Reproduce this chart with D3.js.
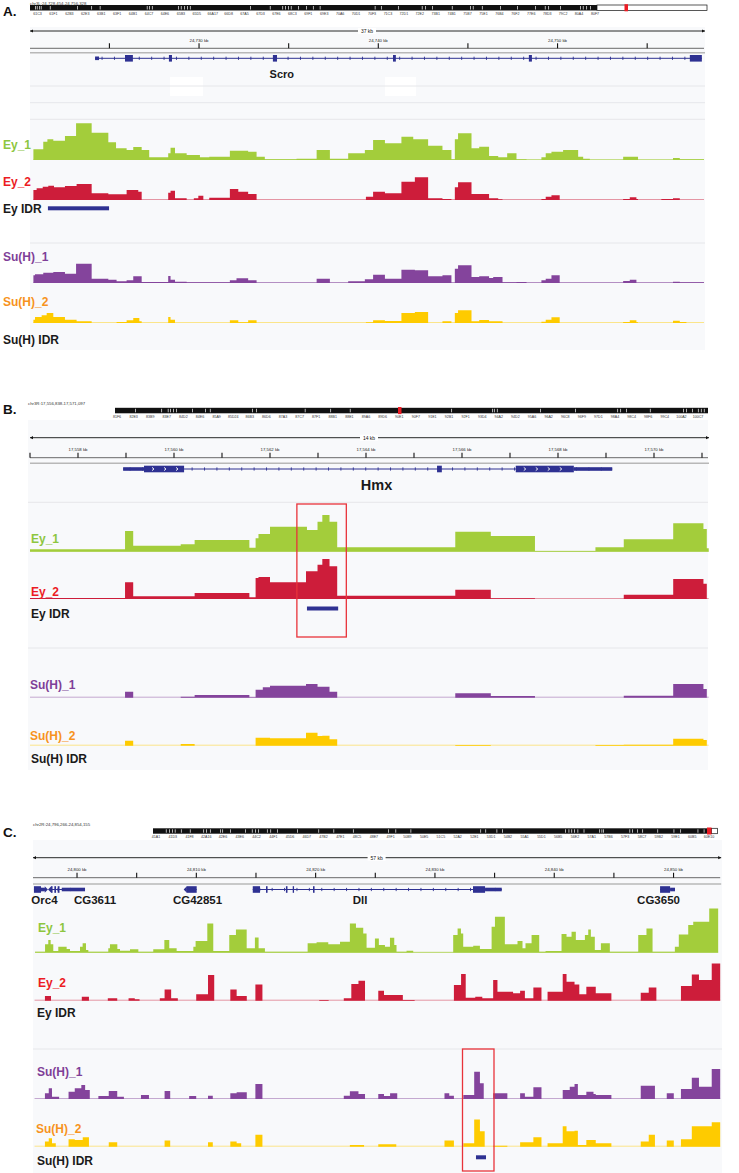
<!DOCTYPE html>
<html>
<head>
<meta charset="utf-8">
<script src="https://cdn.jsdelivr.net/npm/d3@7"></script>
<style>
  body { margin: 0; background: #fff; }
  svg { display: block; }
  text { font-family: "Liberation Sans", Arial, Helvetica, sans-serif; }
</style>
</head>
<body>
<svg id="chart" width="739" height="1173"></svg>
<script>
// ---- signal data: [offset from window start (kb), coverage value] ----
// panel A : Scro
const aEy1 = [[0.19,32],[0.74,55],[0.97,62],[1.30,58],[1.95,72],[2.57,110],[3.44,82],[4.37,53],[4.80,35],[5.39,30],[5.76,39],[6.23,30],[6.65,8],[7.71,20],[7.84,37],[8.09,20],[8.74,15],[9.48,8],[10.0,10],[11.15,28],[12.17,25],[12.64,10],[13.10,2],[14.87,4],[15.99,30],[16.73,4],[17.75,20],[18.68,30],[19.14,60],[19.80,50],[20.72,70],[21.38,62],[22.21,43],[23.01,30],[23.51,2],[23.70,62],[23.88,80],[24.63,35],[25.06,40],[25.61,12],[26.12,8],[26.62,20],[27.14,2],[27.70,1],[28.53,8],[28.77,20],[29.09,25],[29.74,30],[30.58,10],[30.86,4],[31.23,1],[33.09,10],[33.92,1],[35.87,6],[36.25,2],[37.6,2]];
const aEy2 = [[0.19,30],[0.37,35],[0.71,40],[1.02,43],[1.34,38],[1.95,42],[2.60,48],[3.44,20],[4.37,17],[5.39,30],[6.04,25],[6.23,0],[7.71,22],[7.84,28],[8.09,5],[8.74,0],[9.14,5],[9.39,13],[9.67,0],[10.0,7],[11.15,33],[11.62,25],[12.17,18],[12.64,0],[18.74,10],[19.14,25],[19.80,20],[20.72,55],[21.47,68],[22.21,5],[23.01,3],[23.51,0],[23.70,38],[23.88,53],[24.63,18],[25.61,5],[26.12,2],[26.36,0],[28.53,3],[28.77,10],[29.09,14],[29.55,0],[33.09,3],[33.46,8],[33.83,3],[33.92,0],[35.22,3],[35.87,5],[36.25,0],[37.6,0]];
const aSu1 = [[0.19,23],[0.28,26],[0.74,31],[1.30,33],[1.95,28],[2.57,58],[3.44,13],[4.37,10],[4.83,5],[5.39,8],[5.76,20],[6.23,3],[7.71,21],[7.84,10],[8.09,4],[8.74,2],[11.15,8],[11.52,14],[12.17,8],[12.64,1],[15.99,13],[16.73,1],[17.75,5],[18.68,11],[19.14,25],[19.80,13],[20.72,40],[21.47,38],[22.21,20],[23.01,23],[23.51,1],[23.70,43],[23.88,53],[24.63,18],[25.06,20],[25.61,15],[25.84,18],[26.36,2],[27.14,3],[27.70,1],[28.53,8],[28.77,13],[29.09,23],[29.55,1],[33.09,6],[33.46,10],[33.83,1],[35.87,4],[36.25,2],[37.6,2]];
const aSu2 = [[0.19,10],[0.28,18],[0.65,23],[0.93,30],[1.30,18],[1.95,10],[2.60,5],[3.44,0],[4.83,3],[5.39,8],[5.76,15],[6.10,5],[6.23,0],[7.71,18],[7.84,10],[8.09,0],[11.15,8],[11.62,2],[12.17,8],[12.64,0],[18.74,2],[19.14,8],[19.80,6],[20.72,30],[21.47,33],[22.21,0],[23.01,5],[23.51,0],[23.70,30],[23.88,38],[24.63,5],[25.06,9],[25.61,5],[26.36,0],[28.53,4],[28.77,10],[29.09,17],[29.55,0],[33.09,3],[33.46,8],[33.83,2],[33.92,0],[35.87,7],[36.25,3],[36.62,0],[37.6,0]];
const aEyIdr = [[1.0, 4.41]];
const aSuIdr = [];

// panel B : Hmx
const bEy1 = [[0,7],[1.98,62],[2.15,18],[3.14,22],[3.43,35],[4.57,12],[4.70,40],[4.76,53],[5.00,75],[5.77,65],[5.99,90],[6.09,110],[6.24,90],[6.40,13],[8.86,60],[9.60,47],[10.52,2],[11.78,13],[12.37,37],[13.40,85],[14.03,68],[14.10,10],[14.14,10]];
const bEy2 = [[0,3],[1.98,50],[2.15,8],[3.43,18],[4.57,5],[4.70,63],[4.76,66],[5.00,50],[5.75,83],[5.99,103],[6.09,120],[6.24,98],[6.40,10],[8.86,28],[9.60,2],[10.52,0],[12.37,13],[13.40,60],[14.03,46],[14.10,0],[14.14,0]];
const bSu1 = [[0,0],[1.98,18],[2.15,0],[3.14,3],[3.43,8],[4.57,1],[4.70,24],[4.85,31],[5.00,36],[5.75,41],[5.99,33],[6.24,18],[6.40,0],[8.86,13],[9.60,5],[10.52,0],[12.37,6],[13.40,41],[14.03,26],[14.10,0],[14.14,0]];
const bSu2 = [[0,0],[1.98,15],[2.15,0],[3.14,5],[3.43,0],[4.70,24],[5.00,22],[5.75,39],[5.99,29],[6.09,30],[6.24,19],[6.40,0],[8.86,2],[9.60,0],[11.78,2],[12.37,3],[13.40,21],[14.03,17],[14.10,0],[14.14,0]];
const bEyIdr = [[5.77, 6.42]];
const bSuIdr = [];
const bHighlight = [5.56, 6.59];

// panel C : Dll
const cEy1 = [[0.17,3],[1.01,25],[1.28,38],[1.48,25],[1.70,5],[2.12,18],[2.82,11],[3.10,5],[3.94,18],[4.16,28],[4.44,8],[4.64,3],[6.31,13],[6.45,25],[7.07,11],[7.29,6],[8.13,10],[8.83,3],[10.08,10],[11.01,38],[11.42,13],[12.04,5],[13.44,18],[13.63,35],[14.61,88],[15.11,5],[16.45,53],[17.01,70],[17.91,13],[18.60,46],[18.91,13],[19.44,3],[23.02,28],[23.77,31],[24.75,25],[25.73,33],[26.56,88],[27.07,75],[27.68,58],[27.96,15],[28.66,43],[28.99,23],[29.50,18],[29.92,45],[30.28,23],[30.47,3],[31.31,6],[31.87,1],[35.22,53],[35.59,73],[35.87,58],[36.06,18],[36.90,21],[37.46,11],[38.44,78],[38.72,108],[39.55,25],[40.61,35],[41.03,13],[41.28,28],[41.79,53],[42.43,3],[42.96,5],[44.30,56],[44.72,48],[45.14,63],[45.50,38],[46.26,53],[46.54,70],[46.76,48],[47.09,8],[47.60,28],[48.35,3],[50.73,53],[51.42,73],[51.93,3],[53.80,18],[54.13,55],[54.92,83],[55.34,93],[56.68,133],[57.43,133]];
const cEy2 = [[0.13,0],[1.00,14],[1.51,0],[4.09,12],[4.69,0],[6.27,7],[7.06,0],[8.01,7],[8.53,4],[8.93,0],[10.63,7],[11.03,34],[11.58,7],[12.14,0],[13.68,19],[14.67,77],[15.19,0],[16.54,34],[17.07,14],[17.92,0],[18.64,49],[19.23,0],[23.99,2],[24.78,0],[26.05,7],[26.68,50],[27.28,60],[27.83,0],[28.94,30],[29.42,17],[31.00,2],[31.99,0],[35.28,47],[35.88,80],[36.27,9],[37.07,12],[37.66,7],[38.57,62],[38.93,27],[40.24,22],[40.83,30],[41.23,7],[41.94,40],[42.62,0],[43.13,27],[44.40,80],[44.72,57],[45.39,49],[45.79,19],[46.38,42],[47.17,22],[48.48,0],[50.94,24],[51.61,40],[52.25,0],[54.31,44],[55.22,79],[55.82,62],[56.89,112],[57.6,112]];
const cSu1 = [[0.13,0],[1.00,17],[1.32,32],[1.59,7],[2.19,0],[2.98,22],[3.50,32],[4.05,42],[4.37,27],[4.76,0],[5.48,9],[6.35,24],[7.06,7],[7.62,0],[9.05,12],[9.72,0],[11.03,24],[11.50,0],[13.09,9],[13.68,0],[14.67,10],[15.07,0],[16.54,17],[17.07,20],[17.92,0],[18.64,45],[19.23,0],[26.05,10],[26.56,23],[27.28,15],[27.83,0],[28.94,15],[29.42,9],[29.93,17],[30.53,0],[34.49,17],[34.89,10],[35.28,0],[36.07,12],[36.98,82],[37.46,47],[37.78,0],[38.57,17],[39.76,0],[40.83,17],[41.23,7],[41.94,35],[42.62,0],[44.40,27],[44.99,37],[45.39,45],[45.67,12],[46.38,22],[46.98,15],[47.17,12],[48.48,0],[50.94,40],[52.13,0],[53.12,17],[53.71,0],[54.31,30],[55.22,64],[55.82,37],[56.89,90],[57.6,90]];
const cSu2 = [[0.13,0],[1.00,15],[1.32,25],[1.59,10],[1.91,0],[2.98,22],[3.50,20],[4.17,28],[4.69,0],[6.35,13],[7.06,0],[11.03,18],[11.50,0],[14.67,13],[15.07,0],[16.54,15],[17.07,10],[17.45,0],[18.64,35],[19.23,0],[26.56,5],[27.75,0],[28.94,7],[30.45,0],[34.49,18],[35.28,0],[36.07,10],[36.98,80],[37.46,45],[37.86,0],[38.57,3],[39.76,0],[40.83,13],[41.94,28],[42.62,0],[43.13,10],[44.40,60],[44.72,45],[45.39,47],[45.67,5],[46.38,20],[47.17,10],[48.48,0],[50.94,15],[51.61,35],[52.13,0],[53.12,18],[53.71,0],[54.31,22],[55.22,60],[56.89,72],[57.6,72]];
const cEyIdr = [];
const cSuIdr = [[37.13, 37.97]];
const cHighlight = [36.0, 38.64];

// ---- gene models: span and exons in kb offsets, 'c' = coding, 'u' = utr ----
const genesA = [
  {name:'Scro', span:[3.63,37.48], exons:[[3.63,3.85,'u'],[5.30,5.74,'c'],[7.75,7.92,'c'],[13.55,13.78,'c'],[20.25,20.41,'c'],[27.83,28.0,'c'],[36.81,37.48,'c']]}
];
const genesB = [
  {name:'Hmx', span:[1.94,12.13], strand:'+', exons:[[1.94,2.375,'u'],[2.375,3.21,'c'],[8.48,8.58,'c'],[10.12,11.33,'c'],[11.33,12.13,'u']]}
];
const genesC = [
  {name:'Orc4', span:[0.08,1.0], tip:'right', exons:[[0.08,0.67,'c'],[0.67,1.0,'u']]},
  {name:'CG3611', span:[1.51,4.36], tip:'left', exons:[[1.51,1.64,'c'],[1.79,1.93,'c'],[2.07,2.22,'c'],[2.41,4.36,'u']]},
  {name:'CG42851', span:[12.88,13.72], tip:'left', exons:[[12.88,13.72,'c']]},
  {name:'Dll', span:[18.42,39.29], exons:[[18.42,19.03,'c'],[19.53,19.66,'c'],[21.20,21.33,'c'],[21.77,21.88,'c'],[23.47,23.60,'c'],[36.88,37.89,'c'],[37.89,39.29,'u']]},
  {name:'CG3650', span:[52.56,53.81], exons:[[52.56,53.40,'c'],[53.40,53.81,'u']]}
];
// gene name anchors (kb offsets)
const labelsA = [['Scro', 14.05]];
const labelsB = [['Hmx', 7.22]];
const labelsC = [['Orc4', 0.96], ['CG3611', 5.20], ['CG42851', 13.79], ['Dll', 27.41], ['CG3650', 52.43]];

// ---- cytoband names and light band marks (fraction along the ideogram) ----
const bandsA = ['61C3','61F1','62B3','62E3','63B1','63F1','64B1','64C7','64E6','65B3','65D5','66A17','66D8','67A5','67D3','67E6','68C3','69F1','69E3','70A6','70D1','70F3','71C3','72D1','72E2','73B1','74B1','75B7','75E1','76B4','76F2','77E6','78D3','79C2','80A4','80F7'];
const bandsB = ['81F6','82E3','83B9','83E7','84D2','84E6','85A9','85D24','86B3','86D6','87A3','87C7','87F1','88B1','88E1','89A6','89D6','90E1','90F7','91E1','92B1','92F1','93D4','94A2','94D2','95A6','96A2','96C8','96F9','97D1','98A4','98C4','98F6','99C4','100A2','100C7'];
const bandsC = ['41A1','41D3','41F8','42A16','42E6','43E6','44C2','44F1','45D6','46D7','47B2','47E1','48C5','48E7','49F1','50B9','50E5','51C5','52A2','52E1','53D1','54B2','55A1','55D1','56B5','56E2','57A1','57B6','57F3','58C7','59B2','59E1','60B5','60E10'];
const marksA = [.009,.012,.016,.019,.035,.083,.108,.123,.206,.21,.215,.261,.266,.272,.277,.282,.388,.423,.445,.45,.455,.46,.473,.487,.499,.511,.608,.619,.649,.691,.697,.709,.744,.776,.781,.797,.829,.859,.891,.908,.914,.935,.97,.975,.981,.988];
const marksB = [.034,.078,.089,.093,.098,.103,.13,.152,.16,.231,.238,.32,.363,.396,.567,.636,.639,.644,.717,.776,.847,.852,.862,.902,.958,.963,.973,.983,.988,.993];
const marksC = [.023,.029,.034,.039,.05,.066,.09,.095,.102,.12,.124,.138,.165,.177,.183,.188,.204,.21,.222,.258,.296,.323,.358,.421,.434,.461,.586,.595,.615,.625,.738,.744,.749,.754,.76,.771,.799,.803,.806,.853,.858,.867,.876,.903,.932,.944,.975,.986];

const fill = {ey1:'#a3cd3b', ey2:'#cd1d3a', su1:'#84449c', su2:'#fecb00'};
const labelColor = {ey1:'#8dc63f', ey2:'#ec1c24', su1:'#7f3f98', su2:'#f7931e'};
const geneBlue = '#2e3192';

// layout of the three browser snapshots
const panels = [
  { letter:'A.', letterY:15.7, chrom:'chr3L:24,728,454-24,756,328', chromX:30, chromY:4.5,
    start:24720.57, len:37.6, x0:30, x1:704, bg:[30, 27, 705, 350],
    ideo:{x0:30, x1:597, y:5, h:5.5, tail:[597,707], red:[624.5,628], labX:[37.5,595], labY:15},
    bands:bandsA, marks:marksA,
    spanY:31, rulerY:48.3, tickStep:5, labelStep:10, grayY:52.7,
    geneY:58.3, genes:genesA, geneLabels:labelsA, geneFont:11, geneLabelY:78,
    seps:[86, 102.7, 119.3, 243], masks:[[170,77,33,19],[385,77,31,19]],
    tracks:[
      {key:'ey1', label:'Ey_1', data:aEy1, base:160, h:36.7, lx:3, ly:145},
      {key:'ey2', label:'Ey_2', data:aEy2, base:200, h:22.7, lx:3, ly:182},
      {key:'su1', label:'Su(H)_1', data:aSu1, base:283, h:19.3, lx:3, ly:257},
      {key:'su2', label:'Su(H)_2', data:aSu2, base:323, h:12.7, lx:3, ly:302}
    ],
    idr:[{label:'Ey IDR', bars:aEyIdr, lx:3, ly:209, by:206.3}, {label:'Su(H) IDR', bars:aSuIdr, lx:3, ly:340, by:337}],
    highlight:null },
  { letter:'B.', letterY:414.3, chrom:'chr3R:17,556,838-17,571,097', chromX:28, chromY:405,
    start:17557.0, len:14.125, x0:30, x1:708, bg:[28, 420, 708, 770],
    ideo:{x0:115, x1:708, y:407.8, h:5.5, tail:null, red:[398,401.5], labX:[117,698], labY:417.5},
    bands:bandsB, marks:marksB,
    spanY:437.7, rulerY:457.7, tickStep:1, labelStep:2, grayY:463.3,
    geneY:469, genes:genesB, geneLabels:labelsB, geneFont:14.5, geneLabelY:490,
    seps:[502.3, 648], masks:[],
    tracks:[
      {key:'ey1', label:'Ey_1', data:bEy1, base:551.7, h:36.7, lx:31, ly:539},
      {key:'ey2', label:'Ey_2', data:bEy2, base:599, h:40, lx:31, ly:592},
      {key:'su1', label:'Su(H)_1', data:bSu1, base:697.7, h:13.7, lx:30, ly:685},
      {key:'su2', label:'Su(H)_2', data:bSu2, base:745.7, h:13, lx:30, ly:736}
    ],
    idr:[{label:'Ey IDR', bars:bEyIdr, lx:31, ly:613.5, by:606.5}, {label:'Su(H) IDR', bars:bSuIdr, lx:31, ly:758.5, by:752}],
    highlight:{range:bHighlight, y0:504, y1:637} },
  { letter:'C.', letterY:837, chrom:'chr2R:24,796,266-24,854,155', chromX:33, chromY:826,
    start:24796.31, len:57.6, x0:33, x1:720.2, bg:[33, 840, 722, 1173],
    ideo:{x0:153, x1:711.5, y:828.3, h:5.4, tail:[711.5,717.5], red:[707,711.5], labX:[156,709], labY:837.5},
    bands:bandsC, marks:marksC,
    spanY:857.7, rulerY:877.7, tickStep:5, labelStep:10, grayY:884,
    geneY:889.5, genes:genesC, geneLabels:labelsC, geneFont:11.5, geneLabelY:904,
    seps:[1049], masks:[],
    tracks:[
      {key:'ey1', label:'Ey_1', data:cEy1, base:952.7, h:44.3, lx:38, ly:928},
      {key:'ey2', label:'Ey_2', data:cEy2, base:1000.7, h:37.3, lx:38, ly:983},
      {key:'su1', label:'Su(H)_1', data:cSu1, base:1099, h:30, lx:37, ly:1072},
      {key:'su2', label:'Su(H)_2', data:cSu2, base:1146.7, h:27.3, lx:36, ly:1129}
    ],
    idr:[{label:'Ey IDR', bars:cEyIdr, lx:37, ly:1013, by:1008}, {label:'Su(H) IDR', bars:cSuIdr, lx:37, ly:1161, by:1155.3}],
    highlight:{range:cHighlight, y0:1049, y1:1171} }
];

const svg = d3.select('#chart');
const fmt = d3.format(',');

panels.forEach(p => {
  const x = d3.scaleLinear().domain([p.start, p.start + p.len]).range([p.x0, p.x1]);
  const pos = d => x(p.start + d);
  const g = svg.append('g');

  // panel background
  g.append('rect')
    .attr('x', p.bg[0]).attr('y', p.bg[1])
    .attr('width', p.bg[2] - p.bg[0]).attr('height', p.bg[3] - p.bg[1])
    .attr('fill', '#f8f9fb');

  p.masks.forEach(m => {
    g.append('rect').attr('x', m[0]).attr('y', m[1]).attr('width', m[2]).attr('height', m[3]).attr('fill', '#fff');
  });

  // panel letter + locus
  g.append('text').attr('x', 3).attr('y', p.letterY)
    .attr('font-size', 13.5).attr('font-weight', 'bold').attr('fill', '#111').text(p.letter);
  g.append('text').attr('x', p.chromX).attr('y', p.chromY)
    .attr('font-size', 4.3).attr('fill', '#333').text(p.chrom);

  // chromosome ideogram
  const id = p.ideo;
  const ix = d3.scaleLinear().domain([0, 1]).range([id.x0, id.x1]);
  g.append('rect').attr('x', id.x0).attr('y', id.y).attr('width', id.x1 - id.x0).attr('height', id.h).attr('fill', '#111');
  g.selectAll(null).data(p.marks).enter().append('rect')
    .attr('x', d => ix(d)).attr('y', id.y + 1).attr('width', 0.8).attr('height', id.h - 2).attr('fill', '#ddd');
  if (id.tail) {
    g.append('rect').attr('x', id.tail[0]).attr('y', id.y).attr('width', id.tail[1] - id.tail[0]).attr('height', id.h)
      .attr('fill', '#fff').attr('stroke', '#111').attr('stroke-width', 0.7);
  }
  g.append('rect').attr('x', id.red[0]).attr('y', id.y - 0.8).attr('width', id.red[1] - id.red[0]).attr('height', id.h + 1.6).attr('fill', '#ec1c24');
  const bx = d3.scalePoint().domain(p.bands).range(id.labX);
  g.selectAll(null).data(p.bands).enter().append('text')
    .attr('x', d => bx(d)).attr('y', id.labY).attr('text-anchor', 'middle')
    .attr('font-size', 3.6).attr('fill', '#333').text(d => d);

  // span line with kb label
  const spanLabel = Math.floor(p.len) + ' kb';
  g.append('line').attr('x1', p.x0).attr('x2', p.x1 + 1).attr('y1', p.spanY).attr('y2', p.spanY)
    .attr('stroke', '#111').attr('stroke-width', 0.9);
  g.append('path').attr('d', `M${p.x0},${p.spanY}l3,-1.6v3.2z M${p.x1 + 1},${p.spanY}l-3,-1.6v3.2z`).attr('fill', '#111');
  const mid = (p.x0 + p.x1) / 2;
  g.append('rect').attr('x', mid - 9).attr('y', p.spanY - 3).attr('width', 18).attr('height', 6).attr('fill', '#fff');
  g.append('text').attr('x', mid).attr('y', p.spanY + 1.8).attr('text-anchor', 'middle')
    .attr('font-size', 5).attr('fill', '#111').text(spanLabel);

  // ruler
  const t0 = Math.ceil(p.start / p.tickStep) * p.tickStep;
  const ticks = d3.range(t0, p.start + p.len + 0.001, p.tickStep);
  g.append('line').attr('x1', p.x0).attr('x2', p.x1).attr('y1', p.rulerY).attr('y2', p.rulerY)
    .attr('stroke', '#444').attr('stroke-width', 0.8);
  g.selectAll(null).data(ticks).enter().append('line')
    .attr('x1', d => x(d)).attr('x2', d => x(d))
    .attr('y1', p.rulerY - 5).attr('y2', p.rulerY)
    .attr('stroke', '#111').attr('stroke-width', 1.1);
  g.selectAll(null).data(ticks.filter(d => Math.abs(d / p.labelStep - Math.round(d / p.labelStep)) < 1e-6)).enter().append('text')
    .attr('x', d => x(d)).attr('y', p.rulerY - 6.3).attr('text-anchor', 'middle')
    .attr('font-size', 4.3).attr('fill', '#222').text(d => fmt(d) + ' kb');
  g.append('line').attr('x1', p.x0).attr('x2', p.x1 + 1).attr('y1', p.grayY).attr('y2', p.grayY)
    .attr('stroke', '#b8b8b8').attr('stroke-width', 1.6);

  // separators
  p.seps.forEach(s => {
    g.append('line').attr('x1', p.bg[0]).attr('x2', p.bg[2]).attr('y1', s).attr('y2', s)
      .attr('stroke', '#e6e7ea').attr('stroke-width', 1);
  });

  // genes
  p.genes.forEach(gene => {
    const gx0 = pos(gene.span[0]), gx1 = pos(gene.span[1]);
    g.append('line').attr('x1', gx0).attr('x2', gx1).attr('y1', p.geneY).attr('y2', p.geneY)
      .attr('stroke', geneBlue).attr('stroke-width', 1);
    const marks = d3.range(gx0 + 7, gx1 - 3, 12.4);
    g.selectAll(null).data(marks).enter().append('line')
      .attr('x1', d => d).attr('x2', d => d).attr('y1', p.geneY - 1.6).attr('y2', p.geneY + 1.6)
      .attr('stroke', geneBlue).attr('stroke-width', 0.9);
    g.selectAll(null).data(gene.exons).enter().append('rect')
      .attr('x', d => pos(d[0])).attr('width', d => Math.max(1, pos(d[1]) - pos(d[0])))
      .attr('y', d => p.geneY - (d[2] === 'u' ? 1.8 : 3.3))
      .attr('height', d => d[2] === 'u' ? 3.6 : 6.6)
      .attr('fill', geneBlue);
    if (gene.tip === 'left') {
      g.append('path').attr('d', `M${gx0 - 3},${p.geneY}l3.2,-3.3v6.6z`).attr('fill', geneBlue);
    } else if (gene.tip === 'right') {
      g.append('path').attr('d', `M${gx1 + 3},${p.geneY}l-3.2,-3.3v6.6z`).attr('fill', geneBlue);
    }
    if (gene.strand) {
      gene.exons.filter(e => e[2] === 'c' && pos(e[1]) - pos(e[0]) > 15).forEach(e => {
        const cx = d3.range(pos(e[0]) + 9, pos(e[1]) - 5, 12);
        g.selectAll(null).data(cx).enter().append('path')
          .attr('d', d => `M${d - 1},${p.geneY - 1.6}L${d + 1},${p.geneY}L${d - 1},${p.geneY + 1.6}`)
          .attr('fill', 'none').attr('stroke', '#fff').attr('stroke-width', 0.9);
      });
    }
  });
  g.selectAll(null).data(p.geneLabels).enter().append('text')
    .attr('x', d => pos(d[1])).attr('y', p.geneLabelY).attr('text-anchor', 'middle')
    .attr('font-size', p.geneFont).attr('font-weight', 'bold').attr('fill', '#1a1a1a').text(d => d[0]);

  // coverage tracks
  p.tracks.forEach(t => {
    const y = d3.scaleLinear().domain([0, d3.max(t.data, d => d[1])]).range([t.base, t.base - t.h]);
    g.append('line').attr('x1', pos(t.data[0][0])).attr('x2', pos(t.data[t.data.length - 1][0]))
      .attr('y1', t.base - 0.5).attr('y2', t.base - 0.5)
      .attr('stroke', fill[t.key]).attr('stroke-opacity', 0.45).attr('stroke-width', 1);
    const area = d3.area()
      .curve(d3.curveStepAfter)
      .x(d => pos(d[0]))
      .y0(t.base)
      .y1(d => y(d[1]));
    g.append('path').datum(t.data).attr('d', area).attr('fill', fill[t.key]);
    g.append('text').attr('x', t.lx).attr('y', t.ly + 4.3)
      .attr('font-size', 12).attr('font-weight', 'bold').attr('fill', labelColor[t.key]).text(t.label);
  });

  // IDR peak tracks
  p.idr.forEach(r => {
    g.append('text').attr('x', r.lx).attr('y', r.ly + 4.3)
      .attr('font-size', 12).attr('font-weight', 'bold').attr('fill', '#1a1a1a').text(r.label);
    g.selectAll(null).data(r.bars).enter().append('rect')
      .attr('x', d => pos(d[0])).attr('width', d => pos(d[1]) - pos(d[0]))
      .attr('y', r.by).attr('height', 4).attr('fill', geneBlue);
  });

  // highlighted region
  if (p.highlight) {
    g.append('rect')
      .attr('x', pos(p.highlight.range[0])).attr('width', pos(p.highlight.range[1]) - pos(p.highlight.range[0]))
      .attr('y', p.highlight.y0).attr('height', p.highlight.y1 - p.highlight.y0)
      .attr('fill', 'none').attr('stroke', '#e8333a').attr('stroke-width', 1.3);
  }
});
</script>
</body>
</html>
